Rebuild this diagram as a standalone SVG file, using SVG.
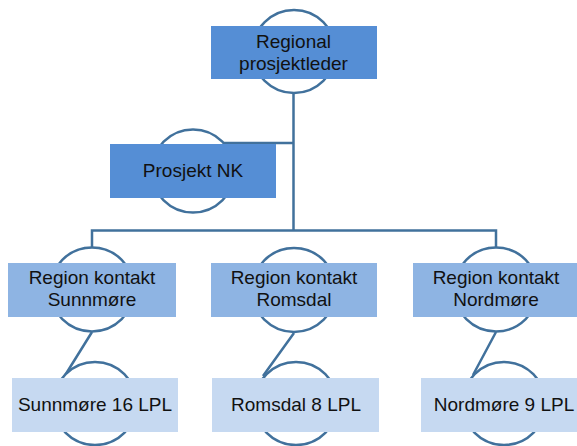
<svg xmlns="http://www.w3.org/2000/svg" width="577" height="446" viewBox="0 0 577 446">
<style>
.ring{fill:#fff;stroke:#41719C;stroke-width:2.5}
.con{fill:none;stroke:#41719C;stroke-width:2.5}
.dark{fill:#558ED5}
.mid{fill:#8EB4E3}
.light{fill:#C6D9F1}
text{font-family:"Liberation Sans",Arial,sans-serif;font-size:19px;fill:#111;text-anchor:middle}
</style>
<rect width="577" height="446" fill="#fff"/>
<g id="connectors">
<path class="con" d="M293.5,93 V230.5 M224,143 H293.5 M92,247 V230.5 H496 V247 M92,332 L64,377 M294,333 L263,376 M496,332 L473,375"/>
</g>
<g id="node-regional">
<circle class="ring" cx="294" cy="51.5" r="41.5"/>
<rect class="dark" x="211" y="26" width="166" height="53"/>
<text x="293.5" y="48">Regional</text>
<text x="293.5" y="70">prosjektleder</text>
</g>
<g id="node-prosjektnk">
<circle class="ring" cx="193" cy="171" r="41.5"/>
<rect class="dark" x="110" y="144" width="166" height="54"/>
<text x="193" y="177">Prosjekt NK</text>
</g>
<g id="node-rk-sunnmore">
<circle class="ring" cx="92" cy="289.5" r="42"/>
<rect class="mid" x="8" y="263" width="168" height="54"/>
<text x="92" y="284">Region kontakt</text>
<text x="92" y="306">Sunnmøre</text>
</g>
<g id="node-rk-romsdal">
<circle class="ring" cx="294" cy="290" r="42"/>
<rect class="mid" x="211" y="263" width="166" height="54"/>
<text x="294" y="284">Region kontakt</text>
<text x="294" y="306">Romsdal</text>
</g>
<g id="node-rk-nordmore">
<circle class="ring" cx="496" cy="289.5" r="42"/>
<rect class="mid" x="413" y="263" width="166" height="54"/>
<text x="496" y="284">Region kontakt</text>
<text x="496" y="306">Nordmøre</text>
</g>
<g id="node-lpl-sunnmore">
<circle class="ring" cx="95" cy="403.5" r="41.5"/>
<rect class="light" x="12" y="378" width="166" height="54"/>
<text x="95" y="411">Sunnmøre 16 LPL</text>
</g>
<g id="node-lpl-romsdal">
<circle class="ring" cx="296" cy="403.5" r="41.5"/>
<rect class="light" x="212" y="378" width="167" height="54"/>
<text x="296" y="411">Romsdal 8 LPL</text>
</g>
<g id="node-lpl-nordmore">
<circle class="ring" cx="504" cy="403.5" r="41.5"/>
<rect class="light" x="421" y="378" width="166" height="54"/>
<text x="504" y="411">Nordmøre 9 LPL</text>
</g>
</svg>
